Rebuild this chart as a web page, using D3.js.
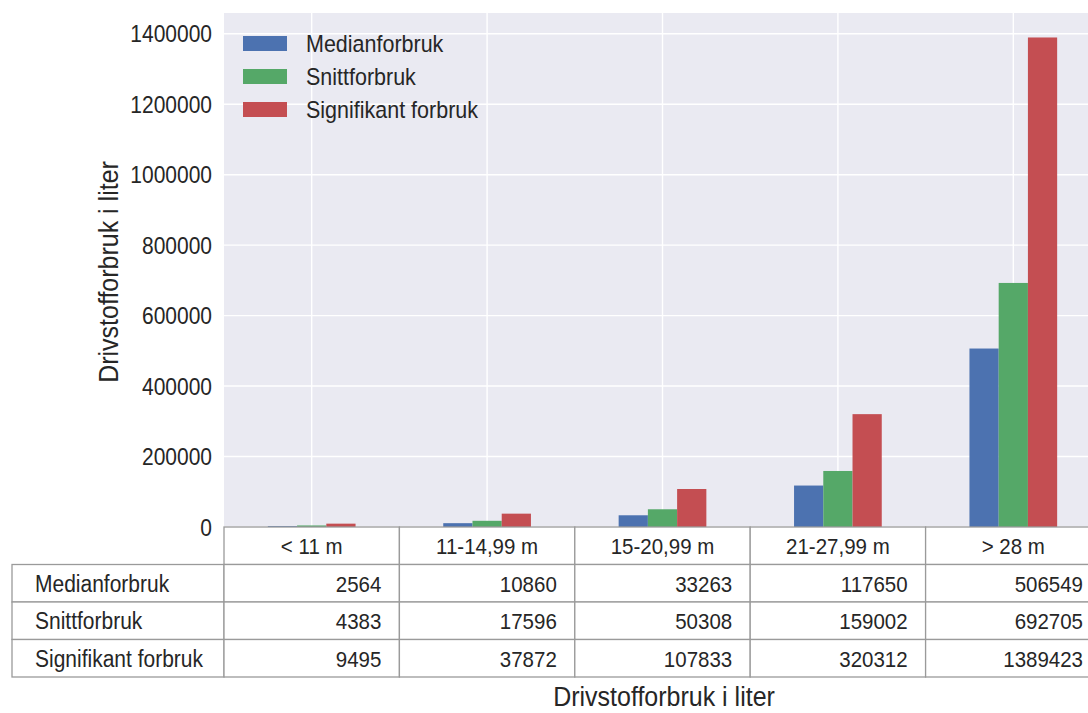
<!DOCTYPE html>
<html>
<head>
<meta charset="utf-8">
<script src="https://cdn.jsdelivr.net/npm/d3@7"></script>
<style>
  body { margin: 0; background: #fff; }
  svg text { font-family: "Liberation Sans", Arial, sans-serif; fill: #262626; }
</style>
</head>
<body>
<div id="chart"></div>
<script>
// chart data
const categories = ['< 11 m', '11-14,99 m', '15-20,99 m', '21-27,99 m', '> 28 m'];
const seriesNames = ['Medianforbruk', 'Snittforbruk', 'Signifikant forbruk'];
const medianforbruk = [2564, 10860, 33263, 117650, 506549];
const snittforbruk = [4383, 17596, 50308, 159002, 692705];
const signifikantForbruk = [9495, 37872, 107833, 320312, 1389423];
const yTicks = [0, 200000, 400000, 600000, 800000, 1000000, 1200000, 1400000];
const colors = ['#4C72B0', '#55A868', '#C44E52'];

const series = [medianforbruk, snittforbruk, signifikantForbruk];

const width = 1088;
const height = 713;

// plot area (right side runs off the picture, as in the original)
const plotLeft = 224;
const plotTop = 13;
const plotBottom = 527;
const colW = 175.4;

const svg = d3.select('#chart').append('svg')
  .attr('width', width)
  .attr('height', height);

const x = d3.scaleBand()
  .domain(categories)
  .range([plotLeft, plotLeft + colW * categories.length])
  .padding(0);

const yMax = d3.max(series.flat()) * 1.05;
const y = d3.scaleLinear().domain([0, yMax]).range([plotBottom, plotTop]);

// background
svg.append('rect')
  .attr('x', plotLeft)
  .attr('y', plotTop)
  .attr('width', x.range()[1] - plotLeft)
  .attr('height', plotBottom - plotTop)
  .attr('fill', '#EAEAF2');

// grid
svg.append('g').selectAll('line')
  .data(yTicks)
  .enter().append('line')
  .attr('x1', plotLeft).attr('x2', x.range()[1])
  .attr('y1', d => y(d)).attr('y2', d => y(d))
  .attr('stroke', '#fff').attr('stroke-width', 1.4);

svg.append('g').selectAll('line')
  .data(categories)
  .enter().append('line')
  .attr('x1', d => x(d) + x.bandwidth() / 2)
  .attr('x2', d => x(d) + x.bandwidth() / 2)
  .attr('y1', plotTop).attr('y2', plotBottom)
  .attr('stroke', '#fff').attr('stroke-width', 1.4);

// text is a bit taller than wide in the original, stretch it slightly
const stretch = 1.12;
function placeText(sel, px, py) {
  return sel.attr('transform', `translate(${px},${py}) scale(1,${stretch})`);
}

// y tick labels
svg.append('g').selectAll('text')
  .data(yTicks)
  .enter().append('text')
  .each(function (d) { placeText(d3.select(this), 212, y(d) + 8.5); })
  .attr('text-anchor', 'end')
  .style('font-size', '21px')
  .text(d => d);

// bars: pandas style, total width 0.5 of the category
const barW = x.bandwidth() * 0.5 / series.length;
series.forEach((vals, si) => {
  svg.append('g').selectAll('rect')
    .data(vals)
    .enter().append('rect')
    .attr('x', (d, i) => x(categories[i]) + x.bandwidth() / 2 - barW * series.length / 2 + si * barW)
    .attr('y', d => y(d))
    .attr('width', barW)
    .attr('height', d => plotBottom - y(d))
    .attr('fill', colors[si]);
});

// legend
const legend = svg.append('g');
seriesNames.forEach((name, i) => {
  const cy = 43.5 + i * 33;
  legend.append('rect')
    .attr('x', 243).attr('y', cy - 7.5)
    .attr('width', 44).attr('height', 15)
    .attr('fill', colors[i]);
  placeText(legend.append('text'), 306, cy + 8.5)
    .style('font-size', '21.5px')
    .text(name);
});

// table under the plot
const rowTops = [527, 564.5, 602, 639.5, 677];
const tableLeft = 12;
const tbl = svg.append('g');
const lineColor = '#9a9a9a';

// header cells
categories.forEach(c => {
  tbl.append('rect')
    .attr('x', x(c)).attr('y', rowTops[0])
    .attr('width', x.bandwidth()).attr('height', rowTops[1] - rowTops[0])
    .attr('fill', '#fff').attr('stroke', lineColor).attr('stroke-width', 1.3);
  placeText(tbl.append('text'), x(c) + x.bandwidth() / 2, rowTops[0] + 27)
    .attr('text-anchor', 'middle')
    .style('font-size', '20.5px')
    .text(c);
});

// body rows
series.forEach((vals, si) => {
  const yTop = rowTops[si + 1];
  const h = rowTops[si + 2] - yTop;
  tbl.append('rect')
    .attr('x', tableLeft).attr('y', yTop)
    .attr('width', plotLeft - tableLeft).attr('height', h)
    .attr('fill', '#fff').attr('stroke', lineColor).attr('stroke-width', 1.3);
  placeText(tbl.append('text'), 35, yTop + 27)
    .style('font-size', '21px')
    .text(seriesNames[si]);
  vals.forEach((v, i) => {
    tbl.append('rect')
      .attr('x', x(categories[i])).attr('y', yTop)
      .attr('width', x.bandwidth()).attr('height', h)
      .attr('fill', '#fff').attr('stroke', lineColor).attr('stroke-width', 1.3);
    placeText(tbl.append('text'), x(categories[i]) + x.bandwidth() - 18, yTop + 27)
      .attr('text-anchor', 'end')
      .style('font-size', '20.5px')
      .text(v);
  });
});

// axis labels
placeText(svg.append('text'), 664, 706)
  .attr('text-anchor', 'middle')
  .style('font-size', '25px')
  .text('Drivstofforbruk i liter');

svg.append('text')
  .attr('transform', `translate(118,272) rotate(-90) scale(1,${stretch})`)
  .attr('text-anchor', 'middle')
  .style('font-size', '25px')
  .text('Drivstofforbruk i liter');
</script>
</body>
</html>
